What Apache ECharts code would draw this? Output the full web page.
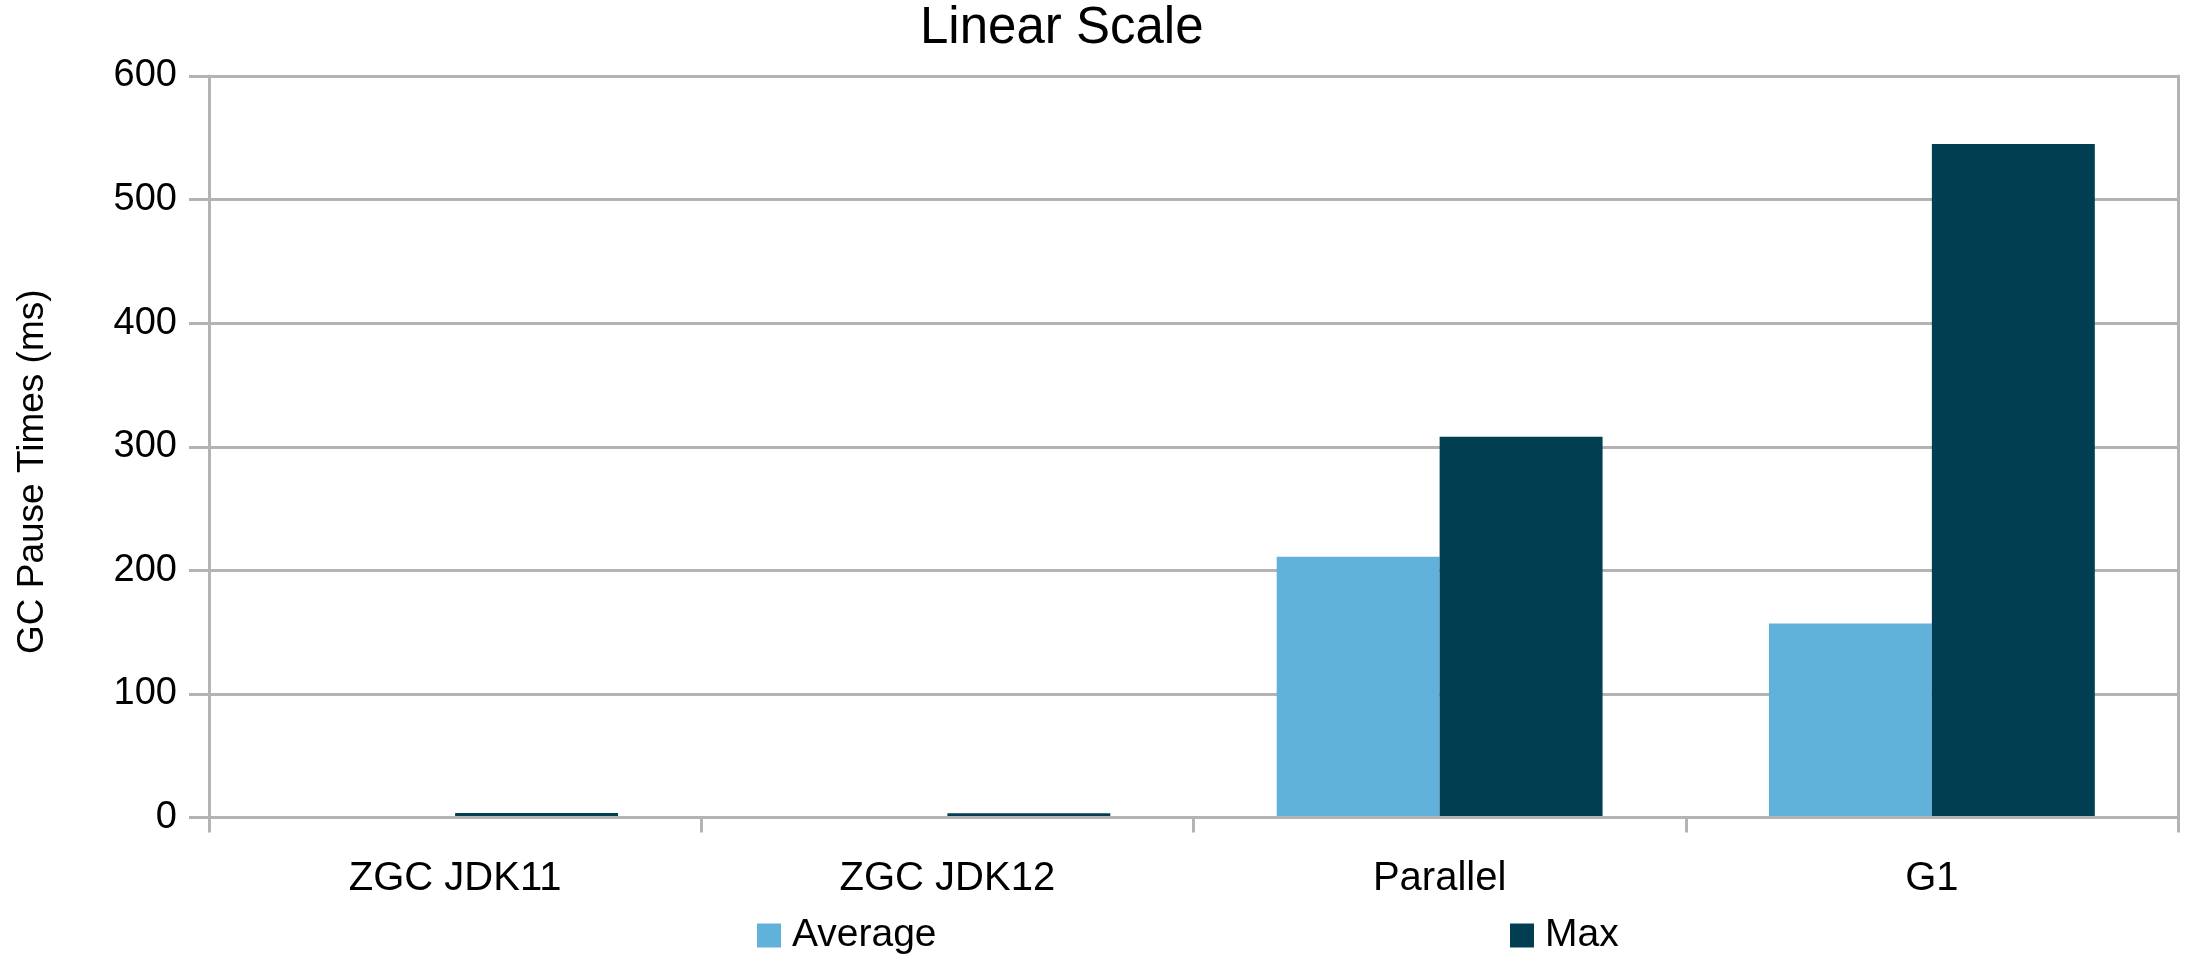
<!DOCTYPE html>
<html>
<head>
<meta charset="utf-8">
<script src="https://cdn.jsdelivr.net/npm/echarts@6/dist/echarts.min.js"></script>
<style>
html,body{margin:0;padding:0;background:#fff;}
#chart{width:2187px;height:959px;}
</style>
</head>
<body>
<div id="chart"></div>
<script>
const titleText = 'Linear Scale';
const yAxisTitle = 'GC Pause Times (ms)';
const categories = ['ZGC JDK11', 'ZGC JDK12', 'Parallel', 'G1'];
const averageValues = [0.9, 0.9, 211, 157];
const maxValues = [3.6, 3.5, 308, 545];
const seriesNames = ['Average', 'Max'];
const yTicks = { min: 0, max: 600, interval: 100 };

const FONT = 'Liberation Sans';
const GRAY = '#b3b3b3';
const C_AVG = '#61b2da';
const C_MAX = '#013e52';

const chart = echarts.init(document.getElementById('chart'), null, { renderer: 'canvas' });
chart.setOption({
  backgroundColor: '#ffffff',
  animation: false,
  title: {
    text: titleText,
    left: 920,
    top: 3,
    padding: 0,
    textStyle: { fontFamily: FONT, fontSize: 51, fontWeight: 'normal', color: '#000' }
  },
  legend: [
    {
      data: [seriesNames[0]],
      left: 757, top: 916, padding: 0,
      itemWidth: 24, itemHeight: 24,
      icon: 'rect',
      textStyle: { fontFamily: FONT, fontSize: 39, color: '#000', padding: [0, 0, 0, 6] }
    },
    {
      data: [seriesNames[1]],
      left: 1510, top: 916, padding: 0,
      itemWidth: 24, itemHeight: 24,
      icon: 'rect',
      textStyle: { fontFamily: FONT, fontSize: 39, color: '#000', padding: [0, 0, 0, 6] }
    }
  ],
  grid: { left: 209, right: 9, top: 76, bottom: 141.5, containLabel: false },
  xAxis: {
    type: 'category',
    data: categories,
    z: 5,
    axisLine: { show: true, lineStyle: { color: GRAY, width: 3 } },
    axisTick: { show: true, length: 15, lineStyle: { color: GRAY, width: 3 } },
    axisLabel: { fontFamily: FONT, fontSize: 40, color: '#000', margin: 41 },
    splitLine: { show: false }
  },
  yAxis: [
    {
      type: 'value',
      min: yTicks.min, max: yTicks.max, interval: yTicks.interval,
      name: yAxisTitle,
      nameLocation: 'middle',
      nameGap: 158,
      nameRotate: 90,
      nameTextStyle: { fontFamily: FONT, fontSize: 37, color: '#000', padding: [0, 50, 0, 0] },
      axisLine: { show: true, lineStyle: { color: GRAY, width: 3 } },
      axisTick: { show: true, length: 20, lineStyle: { color: GRAY, width: 3 } },
      axisLabel: { fontFamily: FONT, fontSize: 38, color: '#000', margin: 32 },
      splitLine: { show: true, lineStyle: { color: GRAY, width: 3 } }
    },
    {
      type: 'value',
      position: 'right',
      min: yTicks.min, max: yTicks.max, interval: yTicks.interval,
      axisLine: { show: true, lineStyle: { color: GRAY, width: 3 } },
      axisTick: { show: false },
      axisLabel: { show: false },
      splitLine: { show: false }
    }
  ],
  series: [
    {
      name: seriesNames[0],
      type: 'bar',
      data: averageValues,
      itemStyle: { color: C_AVG },
      barGap: '0%',
      barCategoryGap: '33.8%'
    },
    {
      name: seriesNames[1],
      type: 'bar',
      data: maxValues,
      itemStyle: { color: C_MAX },
      barGap: '0%',
      barCategoryGap: '33.8%'
    }
  ]
});
</script>
</body>
</html>
